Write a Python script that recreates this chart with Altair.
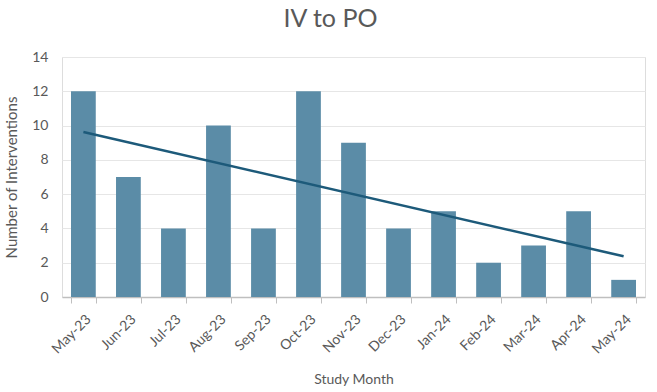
import altair as alt
import pandas as pd

months = ["May-23", "Jun-23", "Jul-23", "Aug-23", "Sep-23", "Oct-23", "Nov-23",
          "Dec-23", "Jan-24", "Feb-24", "Mar-24", "Apr-24", "May-24"]
interventions = [12, 7, 4, 10, 4, 12, 9, 4, 5, 2, 3, 5, 1]
y_ticks = [0, 2, 4, 6, 8, 10, 12, 14]

df = pd.DataFrame({"month": months, "idx": list(range(len(months))), "count": interventions})

label_color = "#595959"
month_expr = "[" + ",".join(f"'{m}'" for m in months) + "][round(datum.idx)]"

x_enc = alt.X(
    "month:N", sort=months, title="Study Month",
    scale=alt.Scale(paddingInner=0.45, paddingOuter=0.2),
    axis=alt.Axis(labelAngle=-45, labelFontSize=14, labelColor=label_color,
                  labelPadding=9, labelOverlap=False, tickBand="extent",
                  tickColor="#bfbfbf", tickSize=6, domainColor="#bfbfbf", domainWidth=1.5,
                  titleFontSize=14, titleColor=label_color, titleFontWeight="normal",
                  titlePadding=16, grid=False),
)

y_enc = alt.Y(
    "count:Q", title="Number of Interventions",
    scale=alt.Scale(domain=[0, 14], nice=False),
    axis=alt.Axis(values=y_ticks, labelFontSize=14, labelColor=label_color,
                  labelPadding=14, labelOverlap=False, ticks=False, domain=False,
                  gridColor="#e6e6e6", titleFontSize=15, titleColor=label_color,
                  titleFontWeight="normal", titlePadding=12),
)

bars = alt.Chart(df).mark_bar(color="#5b8ca7").encode(x=x_enc, y=y_enc)

trend = (
    alt.Chart(df)
    .transform_regression("idx", "count", method="linear", extent=[0, 12])
    .transform_calculate(month=month_expr)
    .mark_line(color="#1d5a7a", strokeWidth=2.5)
    .encode(x=x_enc, y=y_enc)
)

chart = (
    alt.layer(bars, trend)
    .properties(
        width=583, height=240,
        autosize=alt.AutoSizeParams(type="none"),
        padding={"left": 62, "top": 57, "right": 12, "bottom": 95},
        title=alt.TitleParams("IV to PO", fontSize=25, color=label_color,
                              fontWeight="normal", dx=-23, offset=18),
    )
    .configure_view(stroke=None)
    .configure(font="Lato")
)

chart.save("out.html", embed_options={"renderer": "svg", "actions": False})
